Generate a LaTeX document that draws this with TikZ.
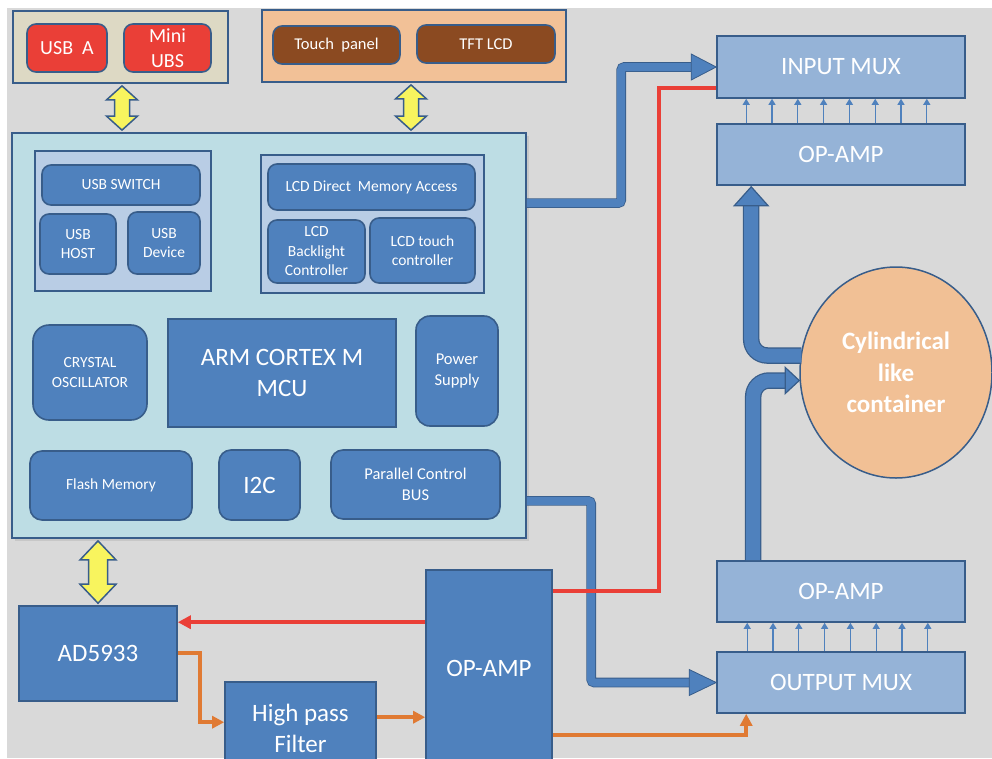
\documentclass[tikz,border=0pt]{standalone}
\usepackage{fontspec}
\setmainfont{Carlito}
\usetikzlibrary{calc,shapes.geometric,arrows.meta}
\definecolor{cbg}{HTML}{D9D9D9}
\definecolor{bfill}{HTML}{4F81BD}
\definecolor{bdark}{HTML}{385D8A}
\definecolor{clight}{HTML}{95B3D7}
\definecolor{cinner}{HTML}{B9CDE5}
\definecolor{cmcu}{HTML}{BDDDE4}
\definecolor{cusbg}{HTML}{DDD9C4}
\definecolor{ctouch}{HTML}{F2C197}
\definecolor{cbrown}{HTML}{8B4A21}
\definecolor{cred}{HTML}{EA3F37}
\definecolor{corange}{HTML}{E07A33}
\definecolor{cyel}{HTML}{F8F45E}
\definecolor{ccirc}{HTML}{F1C095}
\newcommand\yelarrow[5]{%
  \filldraw[yel] ($#1+(0,2)$) -- ($#1+(#3,#5)$) -- ($#1+(#4,#5)$) -- ($#2+(#4,-#5)$) -- ($#2+(#3,-#5)$) -- ($#2+(0,-2)$) -- ($#2+(-#3,-#5)$) -- ($#2+(-#4,-#5)$) -- ($#1+(-#4,#5)$) -- ($#1+(-#3,#5)$) -- cycle;}
\begin{document}
\begin{tikzpicture}[x=1pt,y=-1pt,
  wh/.style 2 args={minimum width=#1pt,minimum height=#2pt},
  grp/.style={draw=bdark,line width=1.8pt,inner sep=0pt},
  box/.style={draw=bdark,line width=1.6pt,fill=bfill,text=white,inner sep=0pt,align=center},
  rbox/.style={box,rounded corners=9pt},
  lbx/.style={box,fill=clight},
  fs/.style={font=\fontsize{15.5}{19.5}\selectfont},
  fm/.style={font=\fontsize{16.5}{21.5}\selectfont},
  fu/.style={font=\fontsize{20}{25}\selectfont},
  fl/.style={font=\fontsize{25}{30.5}\selectfont},
  fb/.style={font=\bfseries\fontsize{25}{31.5}\selectfont},
  fatline/.style={draw=bfill,line width=8pt,rounded corners=3pt,preaction={draw=bdark,line width=9.6pt}},
  fathead/.style={fill=bfill,draw=bdark,line width=0.8pt,line join=miter},
  tube/.style={draw=bfill,line width=14pt,rounded corners=16pt,preaction={draw=bdark,line width=16.5pt}},
  tubehead/.style={fill=bfill,draw=bdark,line width=1.2pt,line join=miter},
  thinarr/.style={draw=bfill,line width=1.2pt,-{Triangle[length=6pt,width=7pt]}},
  redln/.style={draw=cred,line width=3.5pt},
  orln/.style={draw=corange,line width=3.5pt,-{Triangle[length=12pt,width=12pt]}},
  yel/.style={fill=cyel,draw=bdark,line width=1.5pt,line join=miter}
]
\useasboundingbox (0,0) rectangle (992,758);
\fill[white] (0,0) rectangle (992,758);
\fill[cbg] (7,8) rectangle (992,758);

% top groups
\node[grp,fill=cusbg,wh={215}{72}] (usbgrp) at (120.5,47) {};
\node[rbox,fill=cred,wh={80}{48},fu] (usba) at (67,48) {USB\ \ A};
\node[rbox,fill=cred,wh={87}{48},fu] (mini) at (167.5,48) {Mini\\UBS};
\node[grp,fill=ctouch,wh={304}{72}] (touchgrp) at (414,46) {};
\node[rbox,fill=cbrown,wh={127}{38},fm] (tpanel) at (336.5,45) {Touch\ \ panel};
\node[rbox,fill=cbrown,wh={138}{38},fm] (tft) at (486,44) {TFT LCD};

% MCU block
\fill[black!22] (15,136) rectangle (529,541);
\node[grp,fill=cmcu,wh={514}{405}] (mcu) at (269,335.5) {};
\node[grp,fill=cinner,wh={176}{140}] (usbin) at (123,221) {};
\node[rbox,wh={158}{40},fs] (usbsw) at (121,185) {USB SWITCH};
\node[rbox,wh={76}{60},fs] (usbhost) at (78,244) {USB\\HOST};
\node[rbox,wh={72}{62},fs] (usbdev) at (164,243) {USB\\Device};
\node[grp,fill=cinner,wh={223}{138}] (lcdgrp) at (372.5,224) {};
\node[rbox,wh={207}{46},fs] (lcddma) at (371.5,187) {LCD Direct\ \ Memory Access};
\node[rbox,wh={97}{63},fs] (lcdbl) at (316.5,251.5) {LCD\\Backlight\\Controller};
\node[rbox,wh={105}{65},fs] (lcdtouch) at (422.5,250.5) {LCD touch\\controller};
\node[rbox,rounded corners=16pt,wh={114}{95},fs] (crystal) at (90,372.5) {CRYSTAL\\OSCILLATOR};
\node[box,wh={228}{108},fl] (arm) at (282,373) {ARM CORTEX M\\MCU};
\node[rbox,rounded corners=14pt,wh={82}{110},fm] (power) at (457,371) {Power\\Supply};
\node[rbox,rounded corners=12pt,wh={162}{69},fs] (flash) at (111,485.5) {Flash Memory};
\node[rbox,rounded corners=12pt,wh={81}{70},fl] (i2c) at (259.5,485) {I2C};
\node[rbox,rounded corners=12pt,wh={169}{69},fm] (pcb) at (415.5,484.5) {Parallel Control\\BUS};

% right column
\node[lbx,wh={248}{62},fl] (inmux) at (841,67) {INPUT MUX};
\node[lbx,wh={248}{61},fl] (opamp1) at (841,154.5) {OP-AMP};
\node[ellipse,draw=bdark,line width=1.5pt,fill=ccirc,text=white,align=center,inner sep=0pt,wh={192}{211},fb] (circ) at (896,372.5) {Cylindrical\\like\\container};
\node[lbx,wh={248}{61},fl] (opamp2) at (841,591.5) {OP-AMP};
\node[lbx,wh={248}{61},fl] (outmux) at (841,682.5) {OUTPUT MUX};

% bottom
\node[box,wh={158}{95},fl] (ad) at (98,653.5) {AD5933};
\node[box,wh={151}{93},fl] (hpf) at (300.5,728.5) {High pass\\Filter};
\node[box,wh={126}{196},fl] (opc) at (489,668) {OP-AMP};

% yellow double arrows
\coordinate (y1t) at ($(usbgrp.south)+(1.5,0)$);
\coordinate (y1b) at (y1t |- mcu.north);
\yelarrow{(y1t)}{(y1b)}{15.5}{7.5}{16}
\coordinate (y2t) at ($(touchgrp.south)+(-3,0)$);
\coordinate (y2b) at (y2t |- mcu.north);
\yelarrow{(y2t)}{(y2b)}{15.5}{7.5}{16}
\coordinate (y3t) at (ad.north |- mcu.south);
\coordinate (y3b) at (ad.north);
\yelarrow{(y3t)}{(y3b)}{18}{9.5}{21}

% thick blue connectors
\draw[fatline] ($(mcu.north east)+(0,71)$) -| ($(inmux.west)+(-95,0)$) -- ($(inmux.west)+(-23,0)$);
\filldraw[fathead] (inmux.west) -- ++(-25,-13) -- ++(0,26) -- cycle;
\draw[fatline] ($(mcu.south east)+(0,-38)$) -| ($(outmux.west)+(-125,0)$) -- ($(outmux.west)+(-25,0)$);
\filldraw[fathead] (outmux.west) -- ++(-27,-13) -- ++(0,26) -- cycle;

% red connectors
\draw[redln] ($(opc.north east)+(0,22)$) -| ($(inmux.south west)+(-57,-11)$) -- ($(inmux.south west)+(0,-11)$);
\draw[redln,line width=4pt,-{Triangle[length=13pt,width=13pt]}] ($(opc.north west)+(0,53)$) -- ($(ad.east |- opc.north west)+(0,53)$);

% orange connectors
\draw[orln] ($(ad.north east)+(0,48)$) -| ($(hpf.north west)+(-24,41)$) -- ($(hpf.north west)+(0,41)$);
\draw[orln] ($(hpf.north east)+(0,36)$) -- ($(opc.west |- hpf.north east)+(0,36)$);
\draw[orln] ($(opc.north east)+(0,166)$) -| ($(outmux.south west)+(30,0)$);

% small bus arrows
\foreach \i in {0,...,7} {
  \draw[thinarr] ($(opamp1.north west)+({30+25.8*\i},0)$) -- ($(inmux.south west)+({30+25.8*\i},0)$);
  \draw[thinarr] ($(outmux.north west)+({31+25.8*\i},0)$) -- ($(opamp2.south west)+({31+25.8*\i},0)$);
}

% tubes to/from the container
\draw[tube] ($(circ.west)+(2,-17)$) -| ($(opamp1.south west)+(35,18)$);
\filldraw[tubehead] ($(opamp1.south west)+(35,1)$) -- ++(17,19) -- ++(-34,0) -- cycle;
\draw[tube] ($(opamp2.north west)+(37,0)$) |- ($(circ.west)+(-12,8)$);
\filldraw[tubehead] ($(circ.west)+(0,8)$) -- ++(-14,-13) -- ++(0,26) -- cycle;
\end{tikzpicture}
\end{document}
